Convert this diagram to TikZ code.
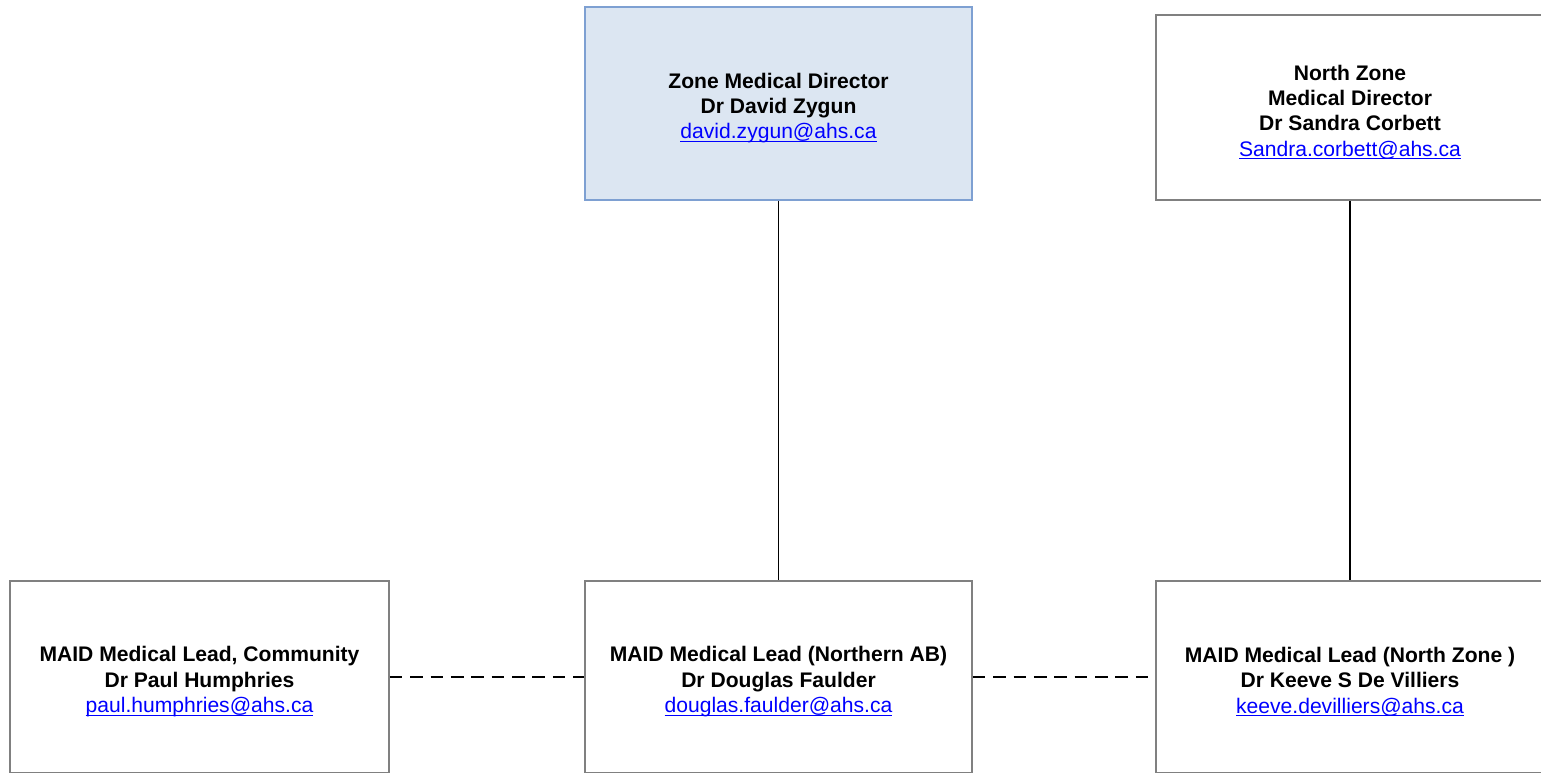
\documentclass[tikz,border=0pt]{standalone}
\usepackage{fontspec}
\setmainfont{Liberation Sans}
\usepackage{tikz}

\definecolor{boxline}{RGB}{128,128,128}
\definecolor{topfill}{RGB}{220,230,242}
\definecolor{topline}{RGB}{126,160,210}
\definecolor{maillink}{RGB}{0,0,255}
\newcommand{\mail}[1]{\textcolor{maillink}{\setbox0\hbox{#1}\rlap{\rule[-1.8pt]{\wd0}{0.6pt}}\box0}}
\newcommand{\hd}{\rule{0pt}{14pt}}

\begin{document}
\begin{tikzpicture}[
    x=0.02cm,
    y=-0.02cm,
    orgbox/.style={draw=boxline,line width=0.9pt,rectangle,align=center,
        minimum width=7.74cm,minimum height=3.84cm,inner sep=0pt,
        font=\fontsize{12}{14.4}\selectfont},
    link/.style={line width=0.9pt,black},
]
    \useasboundingbox (0,0) rectangle (1541,772);
    \node[orgbox,fill=topfill,draw=topline,minimum height=3.86cm] (zonedir) at (778.5,103.5)
        {\hd\textbf{Zone Medical Director}\\\textbf{Dr David Zygun}\\\mail{david.zygun@ahs.ca}};
    \node[orgbox,minimum width=7.76cm,minimum height=3.7cm] (northdir) at (1350,107.5)
        {\hd\textbf{North Zone}\\\textbf{Medical Director}\\\textbf{Dr Sandra Corbett}\\\mail{Sandra.corbett@ahs.ca}};
    \node[orgbox,minimum width=7.58cm] (leadcomm) at (199.5,677)
        {\hd\textbf{MAID Medical Lead, Community}\\\textbf{Dr Paul Humphries}\\\mail{paul.humphries@ahs.ca}};
    \node[orgbox] (leadnab) at (778.5,677)
        {\hd\textbf{MAID Medical Lead (Northern AB)}\\\textbf{Dr Douglas Faulder}\\\mail{douglas.faulder@ahs.ca}};
    \node[orgbox,minimum width=7.76cm] (leadnzone) at (1350,677)
        {\hd\textbf{MAID Medical Lead (North Zone )}\\\textbf{Dr Keeve S De Villiers}\\\mail{keeve.devilliers@ahs.ca}};
    \draw[link] (zonedir) -- (leadnab);
    \draw[link] (northdir) -- (leadnzone);
    \draw[link,dash pattern=on 7.2pt off 4.4pt] (leadcomm) -- (leadnab);
    \draw[link,dash pattern=on 7.2pt off 4.4pt] (leadnab) -- (leadnzone);
\end{tikzpicture}
\end{document}
